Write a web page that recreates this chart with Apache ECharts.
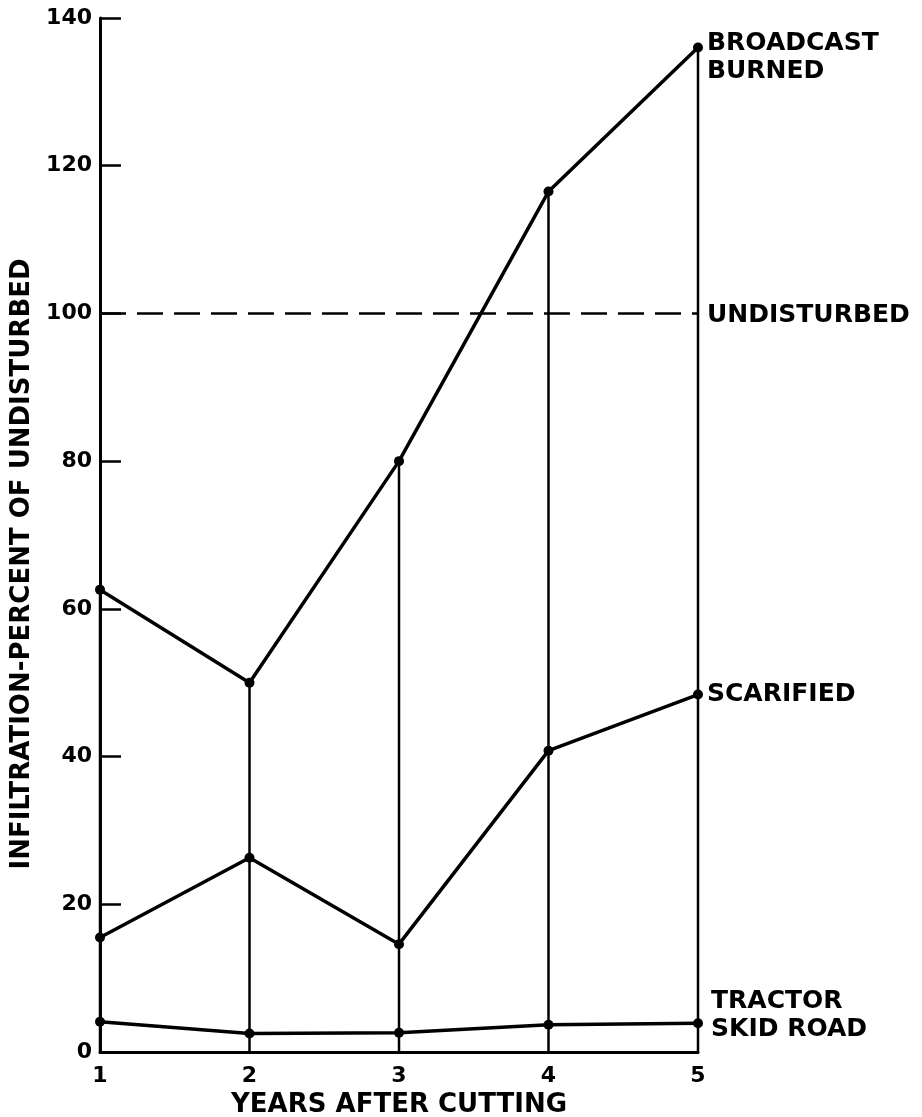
<!DOCTYPE html>
<html>
<head>
<meta charset="utf-8">
<script src="https://cdn.jsdelivr.net/npm/echarts@6/dist/echarts.min.js"></script>
<style>
html,body{margin:0;padding:0;background:#fff;}
#chart{width:922px;height:1117px;}
</style>
</head>
<body>
<div id="chart"></div>
<script>
const years = ['1', '2', '3', '4', '5'];
const broadcastBurned = [62.6, 50, 80, 116.5, 136];
const scarified = [15.5, 26.3, 14.6, 40.8, 48.4];
const tractorSkidRoad = [4.1, 2.5, 2.6, 3.7, 3.9];
const undisturbed = [100, 100, 100, 100, 100];
const yTicks = { min: 0, max: 140, interval: 20 };

const FONT = 'DejaVu Sans';
const chart = echarts.init(document.getElementById('chart'), null, { renderer: 'canvas' });

const endLbl = (text, offset) => ({
  show: true,
  formatter: text,
  distance: 9,
  offset: offset,
  color: '#000',
  fontFamily: FONT,
  fontWeight: 'bold',
  fontSize: 25,
  lineHeight: 28,
  align: 'left'
});

const lineSeries = (name, data, label) => ({
  name: name,
  type: 'line',
  data: data,
  symbol: 'circle',
  symbolSize: 10,
  itemStyle: { color: '#000' },
  lineStyle: { color: '#000', width: 3.5 },
  endLabel: label,
  z: 5,
  animation: false
});

chart.setOption({
  backgroundColor: '#fff',
  animation: false,
  grid: { left: 100, right: 224, top: 18, bottom: 65, containLabel: false, outerBoundsMode: 'none' },
  xAxis: {
    type: 'category',
    data: years,
    boundaryGap: false,
    axisLine: { lineStyle: { color: '#000', width: 3 } },
    axisTick: { show: false },
    axisLabel: { color: '#000', fontFamily: FONT, fontWeight: 'bold', fontSize: 22, margin: 13 },
    splitLine: { show: false },
    name: 'YEARS AFTER CUTTING',
    nameLocation: 'middle',
    nameGap: 37,
    nameTextStyle: { color: '#000', fontFamily: FONT, fontWeight: 'bold', fontSize: 26 }
  },
  yAxis: {
    type: 'value',
    min: yTicks.min,
    max: yTicks.max,
    interval: yTicks.interval,
    axisLine: { show: true, lineStyle: { color: '#000', width: 3 } },
    axisTick: { show: true, inside: true, length: 21, lineStyle: { color: '#000', width: 2.5 } },
    axisLabel: { color: '#000', fontFamily: FONT, fontWeight: 'bold', fontSize: 22, margin: 8 },
    splitLine: { show: false }
  },
  graphic: [{
    type: 'text',
    x: 22,
    y: 564,
    rotation: Math.PI / 2,
    style: {
      text: 'INFILTRATION-PERCENT OF UNDISTURBED',
      fill: '#000',
      font: 'bold 26px "DejaVu Sans"',
      textAlign: 'center',
      textVerticalAlign: 'middle'
    }
  }],
  series: [
    {
      name: 'verticals',
      type: 'bar',
      data: broadcastBurned,
      barWidth: 2.5,
      itemStyle: { color: '#000' },
      z: 2,
      silent: true,
      animation: false
    },
    {
      name: 'UNDISTURBED',
      type: 'line',
      data: undisturbed,
      symbol: 'none',
      lineStyle: { color: '#000', width: 2.5, type: [26, 11] },
      endLabel: endLbl('UNDISTURBED', [0, 2]),
      z: 3,
      animation: false
    },
    lineSeries('BROADCAST BURNED', broadcastBurned, endLbl('BROADCAST\nBURNED', [0, 10])),
    lineSeries('SCARIFIED', scarified, endLbl('SCARIFIED', [0, 0])),
    lineSeries('TRACTOR SKID ROAD', tractorSkidRoad, endLbl('TRACTOR\nSKID ROAD', [4, -8]))
  ]
});
</script>
</body>
</html>
